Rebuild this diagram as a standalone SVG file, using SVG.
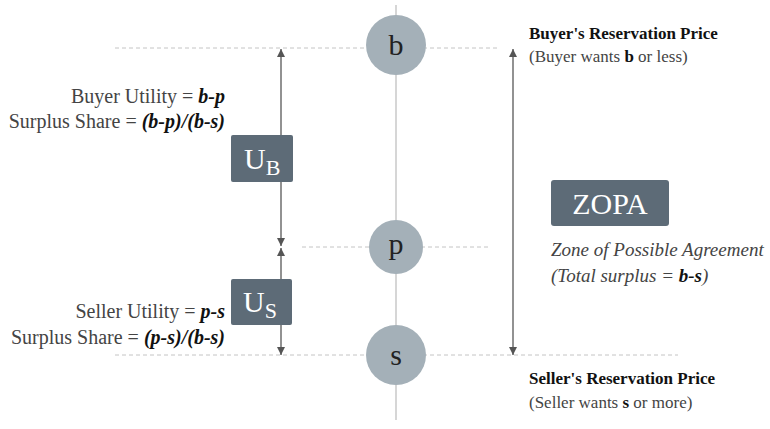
<svg xmlns="http://www.w3.org/2000/svg" width="770" height="429" viewBox="0 0 770 429" font-family="'Liberation Serif','DejaVu Serif','Noto Serif',serif">
<style>
text{font-family:"Liberation Serif","DejaVu Serif",serif;fill:#444}
.dash{stroke:#c4c4c4;stroke-width:1;stroke-dasharray:4,3}
.arr{stroke:#6e6e6e;stroke-width:1.5;fill:none}
.circ{fill:#a4b0b8}
.ct{font-size:30px;fill:#222;text-anchor:middle}
.box{fill:#5d6b77}
.bt{fill:#fff;font-size:30px}
.l{font-size:20px;text-anchor:end}
.b{font-weight:bold;font-style:italic;fill:#111}
</style>
<defs>
<marker id="ah" viewBox="0 0 10 10" refX="10" refY="5" markerWidth="8" markerHeight="8" markerUnits="userSpaceOnUse" orient="auto-start-reverse"><path d="M0,0L10,5L0,10z" fill="#555"/></marker>
</defs>
<line x1="396" y1="5" x2="396" y2="420" stroke="#c8c8c8" stroke-width="1.5"/>
<g id="connectors">
<line class="dash" x1="115" y1="48" x2="500" y2="48"/>
<line class="dash" x1="302" y1="247" x2="490" y2="247"/>
<line class="dash" x1="115" y1="355" x2="678" y2="355"/>
<line class="arr" x1="281" y1="49" x2="281" y2="246" marker-start="url(#ah)" marker-end="url(#ah)"/>
<line class="arr" x1="281" y1="248" x2="281" y2="355" marker-start="url(#ah)" marker-end="url(#ah)"/>
<line class="arr" x1="513" y1="49" x2="513" y2="355" marker-start="url(#ah)" marker-end="url(#ah)"/>
</g>
<g id="node-b"><circle class="circ" cx="396" cy="45" r="30"/><text class="ct" x="396" y="55">b</text></g>
<g id="node-p"><circle class="circ" cx="396" cy="247" r="27"/><text class="ct" x="396" y="254">p</text></g>
<g id="node-s"><circle class="circ" cx="396" cy="355" r="30"/><text class="ct" x="396" y="365">s</text></g>
<g id="node-ub"><rect class="box" x="231" y="135" width="62" height="47" rx="2"/><text class="bt" x="244" y="169">U<tspan font-size="22" dy="6">B</tspan></text></g>
<g id="node-us"><rect class="box" x="231" y="279" width="61" height="46" rx="2"/><text class="bt" x="243" y="312">U<tspan font-size="22" dy="6">S</tspan></text></g>
<g id="node-zopa"><rect class="box" x="551" y="180" width="118" height="46" rx="3"/><text class="bt" x="610" y="214" text-anchor="middle">ZOPA</text></g>
<g id="labels">
<text class="l" x="225" y="103">Buyer Utility = <tspan class="b">b-p</tspan></text>
<text class="l" x="225" y="128">Surplus Share = <tspan class="b">(b-p)/(b-s)</tspan></text>
<text class="l" x="225" y="318">Seller Utility = <tspan class="b">p-s</tspan></text>
<text class="l" x="225" y="344">Surplus Share = <tspan class="b">(p-s)/(b-s)</tspan></text>
<text x="529" y="39" font-size="17" font-weight="bold" style="fill:#111">Buyer's Reservation Price</text>
<text x="529" y="62" font-size="17">(Buyer wants <tspan font-weight="bold" style="fill:#111">b</tspan> or less)</text>
<text x="551" y="256" font-size="19" font-style="italic">Zone of Possible Agreement</text>
<text x="551" y="282" font-size="19" font-style="italic">(Total surplus = <tspan class="b">b-s</tspan>)</text>
<text x="529" y="384" font-size="17" font-weight="bold" style="fill:#111">Seller's Reservation Price</text>
<text x="529" y="408" font-size="17">(Seller wants <tspan font-weight="bold" style="fill:#111">s</tspan> or more)</text>
</g>
</svg>
